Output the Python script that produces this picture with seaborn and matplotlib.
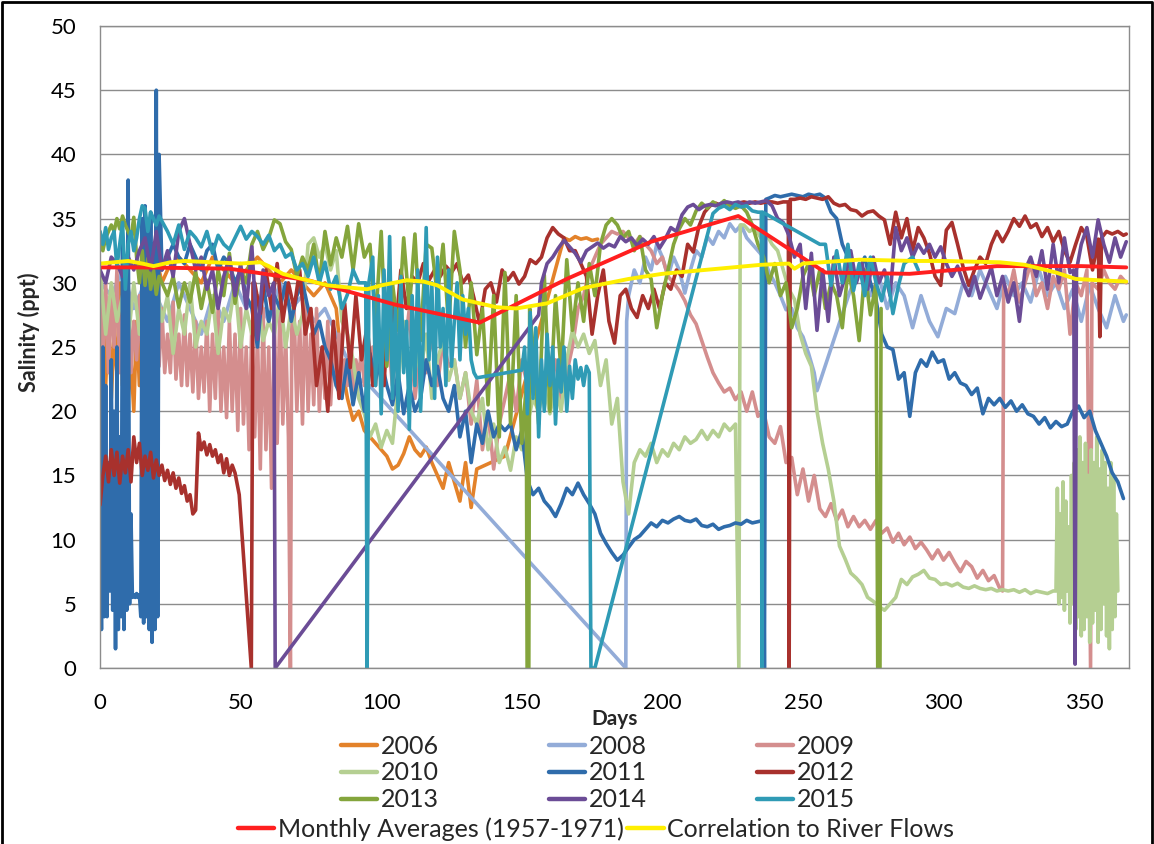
import matplotlib
matplotlib.use("Agg")
import matplotlib.pyplot as plt
from matplotlib.lines import Line2D
import pandas as pd
import seaborn as sns

# ----------------------------------------------------------
# Data (day of year, salinity ppt)
# regular runs: (start day, step, values); sparse points: (day, value)
# ----------------------------------------------------------

# 2006
s2006_a = [31, 27, 22, 28, 21, 26, 23, 30, 22, 25, 21, 24, 20, 27, 22, 31, 21, 24,
           22, 29, 23, 31, 30]
s2006_b = [31, 32, 31, 30, 32, 31, 30, 31, 32, 31, 30, 31, 30, 29, 30, 28]
s2006_c = [23.5, 21, 19.3, 20, 18.5, 18, 17.5, 17, 16.5, 15.5, 15.8, 16.7, 18, 17,
           16.5, 17.2, 16, 15, 14, 16, 14.5, 13, 16, 12.5, 15.5]
p2006 = [(144, 16.5)]
s2006_d = [33.5, 33.3, 33.6, 33.4, 33.5, 33.3, 33.4]

# 2008
s2008_a = [30, 29, 31, 28, 30, 29, 27, 30, 28, 26, 29, 27, 30, 28, 29, 27, 30, 28,
           29, 27, 28, 26, 24, 22.5]
p2008_a = [(95, 22.2), (187, 0), (187.3, 27)]
s2008_b = [29, 31, 30, 32, 31, 33, 32, 30.5, 32, 31, 29.2, 31, 32.5, 32, 33.6, 33,
           34, 33.5, 34.6, 34, 34.5, 33.5, 33, 32.5, 32, 30.8, 30, 29, 27.9, 28,
           26.5, 25.8, 24.5, 23]
p2008_b = [(255, 21.6), (266.5, 29.2)]
s2008_c = [30, 31, 29, 30.5, 28, 30, 29, 26.5, 29, 27, 25.8, 28, 27.6, 30, 29, 31,
           29.5, 28, 30.5, 29, 30, 28.5, 31, 29, 30, 28, 29.5, 27, 29.8, 28, 26.5,
           29, 27]
p2008_c = [(365, 27.5)]

# 2009
s2009_a = [31, 24, 30, 23, 29, 25, 31, 23, 28, 24, 30, 23, 27, 24, 29, 23, 28, 25,
           30, 23, 27, 23.5, 28, 23, 26, 23, 28.5, 22.5, 26, 22, 27.5, 22, 26, 21.5,
           27, 21, 25, 21.5, 27, 20, 26, 21, 28, 20, 25, 19.5, 27, 20, 26, 18.5,
           28, 19, 25, 17, 27, 18, 26, 15.5, 28, 17, 25, 14, 27, 17.5, 28.5, 19,
           26, 18]
p2009_a = [(67.7, 0), (68.2, 28)]
s2009_b = [28, 20, 27, 19, 29, 20, 26, 20.5, 28, 20, 25, 21, 27, 20.5, 25, 22, 26,
           21, 24, 22, 25, 21, 24, 22.5, 25, 22, 24, 23, 25, 22, 24, 23]
s2009_c = [27, 22, 26, 24, 28, 21, 25, 23, 26, 22, 25.5, 23.5, 24, 21, 23, 19, 22.4,
           17, 20, 15.5, 19, 21, 23, 20, 24, 22, 25, 21, 23, 22, 24, 20.5, 23, 25,
           28, 29, 31, 32, 33, 33.5, 34, 33.8, 34, 33.5, 33]
s2009_d = [33.6, 33, 32.5, 31.5, 32, 30.5, 30, 29.4, 28.6, 27.5, 26.8, 25.5, 24.2,
           23, 22.2, 21.5, 21.8, 20.9, 21.5, 20, 21.5, 19.6, 20, 18, 17.5, 18.8, 16,
           16.4, 13.5, 15.5, 13, 15, 12.4, 11.8, 12.8, 11.5, 12.3, 11, 11.8, 11,
           11.5, 10.8, 11.5, 10.5, 10.9, 9.8, 10.5, 9.6, 10.2, 9.3, 9.8, 9.2, 8.5,
           9.2, 8.4, 9, 8.2, 7.5, 8.3, 7.9, 7, 7.6, 6.8, 7.2, 6.2]
p2009_b = [(321, 6), (321.4, 30)]
s2009_e = [29, 31, 28.5, 30, 31.5, 29, 30, 28, 30.5, 29.5, 31, 26, 30, 29, 31]
p2009_c = [(352.3, 0), (352.8, 30)]
s2009_f = [29.5, 31, 30, 29.5, 30.5, 30]

# 2010
s2010_a = [31, 26, 30, 27, 29, 25.5, 30, 26, 28, 25, 30, 27, 29, 24.5, 28, 26, 30,
           25, 27, 26, 29, 24.5, 28, 27, 30, 25, 28, 26, 29, 25.5, 27, 26, 29, 25,
           28, 26, 27.5, 33, 33.5, 32, 33, 31, 32.5, 27, 26, 24]
s2010_b = [21, 19.8, 18, 19, 17.2, 18.5, 17.5, 22, 27, 22, 25, 23, 26, 21, 24, 25.5,
           22.4, 24, 21, 23, 20, 19, 21, 17, 19, 16, 17.2, 15.4, 18, 17, 19, 21, 20,
           22, 19.8, 21.9, 20, 24, 26.3, 25, 26, 24.5, 25.5, 22, 24, 19, 21, 14.5,
           12, 16, 17, 16.5, 17.5, 16, 17, 16.5, 17.5, 17, 18, 17.5, 17.8, 18.5,
           17.8, 18.5, 18, 19, 18.5, 19]
p2010 = [(227.2, 0), (227.7, 34.5)]
s2010_c = [34.5, 34, 34.3, 33.5, 33.8, 33, 32.5, 31, 29.5, 28.7, 26, 24.5, 23.5, 20,
           17.5, 15.5, 13, 9.5, 8.5, 7.4, 7, 6.5, 5.5, 5.2, 4.8, 4.5, 5, 5.5, 6.9,
           6.5, 7.1, 7.3, 7.6, 7, 6.9, 6.5, 6.6, 6.4, 6.6, 6.3, 6.2, 6.4, 6.2, 6.1,
           6.2, 6, 6.1, 6, 6.1, 5.9, 6.1, 5.8, 6, 5.9, 5.8, 6]
s2010_d = [6, 14, 5, 12, 5.5, 14.5, 4.5, 13, 6, 11, 3.5, 15, 5, 16, 3, 17, 4, 18,
           2.5, 16, 3, 17.5, 4, 15, 2, 17, 3.5, 16, 4.5, 18, 2, 15.5, 3, 17, 5, 16,
           2.5, 14, 1.5, 16, 3, 15, 4, 12, 6]

# 2011
s2011_a = [14, 3, 25, 4, 22, 4, 16, 6, 24, 4.5, 20, 1.5, 25, 3, 18, 4, 33, 3, 31,
           4.5, 38, 5, 12, 5.5, 5.7, 5.5, 5.8, 5.5, 5.7, 4, 35, 3.5, 36, 4, 34, 3,
           35.5, 2, 33, 3, 45, 4, 40]
s2011_b = [31, 32, 33, 32, 31.5, 33, 32, 31, 32.5, 33, 31, 32, 31.5, 30, 31, 29, 28,
           25, 30, 27, 29, 28, 30, 27, 29, 30, 28, 26, 27, 25, 24, 22]
s2011_c = [21, 24, 20.5, 23, 20, 24.5, 22.5, 24, 22, 20.5, 23, 19.8, 22, 20, 21, 24,
           22, 23.5, 21, 20, 22, 18, 20, 16, 19, 17.5, 20, 18, 19, 18.5, 19, 17,
           18.5]
s2011_d = [14.6, 13.5, 14, 13, 12.5, 11.8, 12.8, 14, 13.5, 14.4, 13.5, 12.8, 12,
           10.5, 9.7, 9, 8.4, 8.8, 9.4, 10, 10.3, 10.8, 11.3, 11, 11.5, 11.3, 11.6,
           11.8, 11.5, 11.4, 11.6, 11.1, 11, 11.2, 10.8, 11, 11.1, 11.3, 11.2, 11.5,
           11.3, 11.4, 11.5]
p2011 = [(236.3, 0), (236.8, 36.5)]
s2011_e = [36.6, 36.8, 36.7, 36.8, 36.9, 36.8, 36.7, 36.9, 36.8, 36.9, 36.6, 35.5,
           35, 33, 32, 30, 31, 32, 30, 28.7, 26, 25, 24.8, 22.5, 23, 19.6, 23, 24,
           23.5, 24.6, 23.8, 24, 22.5, 23, 22.2, 22, 21.3, 21.8, 19.8, 21, 20.5, 21,
           20.3, 20.8, 20, 20.5, 19.8, 19.6, 19, 19.5, 18.7, 19.2, 18.8, 19, 20,
           20.4, 19.5, 20, 18.5, 17.5, 16.5, 15.2, 14.5, 13.2]

# 2012
s2012_a = [12.7, 15, 16.5, 14.5, 17, 15, 16.8, 14.4, 16.5, 15.2, 17, 14.5, 18, 16,
           17.5, 15, 16.5, 15.4, 16.8, 14.8, 16.2, 15, 15.8, 14.6, 15.4, 14.3, 15.2,
           14, 14.8, 13.6, 14.2, 13, 13.5, 12, 12.3, 18.3, 17, 17.6, 16.6, 17.4,
           16.5, 17, 16, 16.6, 15.2, 16.3, 15, 15.8, 15.2]
p2012_a = [(49.5, 13.5), (53.8, 0), (54.4, 30)]
s2012_b = [30, 27.6, 31, 28, 31.5, 27, 30, 28, 31, 26, 28, 22, 25, 20, 27, 21, 28.4,
           23.4, 29, 24, 26.6, 22, 25.5, 22]
s2012_c = [30, 26, 31, 28, 30.5, 30, 31.5, 30.2, 31, 30.5, 31.3, 30.8, 31.5, 30,
           30.6, 28.8, 26.8, 29.5, 30, 28.5, 31, 30.2, 30.8, 29.9, 30.5, 31.8, 31.5,
           32, 33.5, 34.3, 33.8, 33.5, 32.5, 32.5, 31.5, 30.5, 26, 29, 31, 27, 25.3,
           29, 29.5, 28]
s2012_d = [27.3, 29, 28, 29.5, 28, 30, 29.5, 31, 30.5, 33, 32.4, 34.4, 35.5, 36,
           36.2, 36, 36.2, 36.1, 36.2, 36.3, 36.2, 36.3, 36.2, 36.3, 36.3, 36.2,
           36.3]
p2012_b = [(244.8, 36.3), (245.1, 0), (245.5, 36.5)]
s2012_e = [36.5, 36.6, 36.5, 36.7, 36.6, 36.5, 36.7, 36.2, 36, 36.1, 35.7, 35.6,
           35.2, 35.5, 35.6, 35.2, 34.9, 33, 35.5, 33.5, 35, 32.5, 34.3, 33.5, 32.3,
           30.5, 29.8, 34.1, 34.7, 33, 31.2, 29.8, 31, 32, 31.5, 33, 34, 33.2, 34,
           35, 34.4, 35.2, 34.3, 34.6, 33.6, 34.3, 33.2, 34, 32.5, 31.6, 33, 34.3,
           33.6, 31]
p2012_c = [(355, 33.4), (355.6, 25.8), (356.2, 33.5)]
s2012_f = [34, 33.8, 34, 33.7]
p2012_d = [(365, 33.8)]

# 2013
s2013_a = [33, 32.5, 33.5, 34, 34.5, 34, 35, 34.2, 35.2, 34.5, 34, 33.5, 35.1, 32,
           30, 32.5, 29.8, 31.9, 29.5, 31, 29.1, 30.5, 30]
s2013_b = [29, 30.5, 28.1, 30, 28.5, 30.9, 28, 30.2, 27.7, 31, 29, 32.3, 28.4, 31,
           30, 33, 34, 32.6, 33.5, 34.9, 34.6, 33.2, 32.6, 30.5, 32, 31, 33, 30, 34,
           31.4, 33.5, 32, 34.4, 31, 34.6, 32]
s2013_c = [33, 27, 34, 23.5, 30, 26.3, 33.5, 28, 33.8, 25.5, 33, 32.7, 29, 33, 26.6,
           34, 31, 25, 30, 24.4, 28, 20.5, 29, 18, 30.8, 19, 29, 17.5]
p2013_a = [(151.6, 22), (151.9, 0), (152.5, 0), (152.8, 28)]
s2013_d = [25, 19, 30.6, 20, 29, 23, 31.8, 26.3, 30, 27, 31.5, 29, 33, 34.5, 35,
           34.5, 33.5, 34, 32.5, 33.6, 31, 30.3, 26.5, 29, 31, 33, 34.2, 35, 34.5,
           35.6, 36.2, 35.8, 36.3, 36, 36.4, 36, 35.8, 36, 35.5, 34.5, 33, 32, 30,
           31.5, 29, 30, 26.5, 28, 30.5, 31.5, 29, 31, 28, 30, 29, 26.5, 31, 29,
           25.5, 31, 27.5, 30]
p2013_b = [(276.6, 0), (277.4, 0), (277.8, 28)]

# 2014
s2014_a = [31, 30, 32, 31.5, 30.5, 32, 31, 32.5, 33.5, 31, 34, 31, 32.5, 30.5, 34,
           35, 33, 31, 32, 29.5, 31, 28, 30.5, 32, 29, 31.5, 28, 32.8, 25.6, 31, 29]
p2014_a = [(61.8, 30), (62.3, 0), (156, 27.5)]
s2014_b = [30, 31.5, 32, 32.7, 33.3, 32.8, 32.3, 31.6, 32.5, 32.8, 33.1, 32.7, 33,
           32.8, 33.6, 33.2, 33.5, 32.9, 33.4, 33, 33.6, 32.7, 33.4, 34.3, 34, 35.3,
           35.9, 36.1, 35.7, 36, 36.1, 36, 36.2, 36.3, 36.2, 36.3, 36.1, 36.3, 36.2,
           36.3, 36.4, 36, 35, 34.7, 33.7]
s2014_c = [32, 33, 28, 32.3, 26.3, 31, 27, 32, 29, 30.5, 32.5, 30, 31.5, 29.5, 32,
           30, 31, 29, 34.3, 32.5, 33.5, 32, 33, 32.3, 33, 32, 32.8, 31.5, 30.5,
           31.3, 30, 29, 30.5, 28.8, 30, 31.2, 29, 30.5, 28.5, 30, 27, 31, 32, 30.5,
           32.5, 29.5, 33, 30, 33.5, 30.8]
p2014_b = [(346.3, 31), (346.8, 0.3), (347.3, 31)]
s2014_d = [33, 34.3, 32, 34.9, 33, 31.6, 33.5, 32, 33.2]

# 2015
s2015_a = [34, 33, 34.3, 32.6, 33.5, 34, 31.2, 33, 34.7, 29.5, 33, 34, 32.5, 33.5,
           35, 36, 35.8, 34, 35.5, 35, 34.5, 35.2, 34.8]
s2015_b = [34, 33, 34.5, 32.6, 34, 33.5, 32.8, 34, 32.3, 33.7, 33, 32.6, 33.5, 34.4,
           33.4, 34, 33.6, 33, 33.7, 32.5, 33, 32, 32.3, 31, 31.5, 30.5, 32, 30,
           31.6, 29.5, 30.5, 28, 29.1, 31, 30]
p2015_a = [(94.5, 30), (95, 0), (95.6, 30)]
s2015_c = [32, 22, 29, 19.8, 31, 24, 33.6, 21, 28, 20, 30.5, 23, 27, 18.6, 29, 22,
           31, 20, 26, 34.3, 24, 30, 21, 32, 25, 28, 22, 31, 23.5, 27, 30, 24, 29,
           26, 28, 24, 23]
p2015_b = [(134, 22.6), (150, 23.2)]
s2015_d = [25, 19.8, 27.7, 21, 26.5, 18, 24, 20, 26, 22, 25, 19, 24, 21.5, 25, 20,
           23.5, 21, 24, 22.5, 23.4, 22, 23.5, 23]
p2015_c = [(174.6, 0), (176, 0), (218, 35.4)]
s2015_e = [35.8, 36, 35.7, 36.1, 35.9, 36, 35.6, 35.5]
p2015_d = [(235.2, 35.5), (235.4, 0), (235.7, 35.5), (256, 33)]
s2015_f = [33, 29.8, 32.5, 30, 33, 29.4, 31.5, 29, 32, 30, 28.6, 30.5, 27.6, 29.8,
           31.5]
p2015_e = [(289, 32), (291, 31)]

# Monthly averages (1957-1971)
monthly_days = [0, 15, 46, 74, 105, 135, 166, 196, 227, 258, 288, 319, 349, 365]
monthly_vals = [31.2, 31.2, 31.1, 30.2, 28.3, 26.9, 30.3, 33.2, 35.2, 30.8, 30.7,
                31.3, 31.3, 31.2]

# Correlation to river flows
corr_days = [0, 5, 10, 15, 19, 25, 30, 40, 50, 57, 60, 65, 70, 81, 90, 95, 100, 109,
             115, 120, 129, 141, 148, 159, 172, 188, 200, 220, 235, 245, 247, 250,
             270, 290, 300, 320, 329, 340, 347, 355, 365]
corr_vals = [31.5, 31.6, 31.7, 31.5, 31.3, 31.6, 31.7, 31.6, 31.5, 31.6, 31.3, 30.7,
             30.4, 29.8, 29.6, 29.5, 29.8, 30.2, 30.1, 29.8, 28.7, 28.1, 28.0, 28.4,
             29.6, 30.3, 30.7, 31.1, 31.4, 31.5, 31.1, 31.5, 31.8, 31.7, 31.7, 31.6,
             31.4, 30.8, 30.3, 30.2, 30.1]


def run(start, step, vals):
    return [(start + i * step, v) for i, v in enumerate(vals)]


series = {
    "2006": run(0, 1, s2006_a) + run(24, 4, s2006_b) + run(86, 2, s2006_c)
            + p2006 + run(165, 2, s2006_d),
    "2008": run(0, 4, s2008_a) + p2008_a + run(188, 2, s2008_b) + p2008_b
            + run(268, 3, s2008_c) + p2008_c,
    "2009": run(0, 1, s2009_a) + p2009_a + run(69, 1, s2009_b) + run(102, 2, s2009_c)
            + run(192, 2, s2009_d) + p2009_b + run(323, 2, s2009_e) + p2009_c
            + run(355, 2, s2009_f),
    "2010": run(0, 2, s2010_a) + run(92, 2, s2010_b) + p2010 + run(229, 2, s2010_c)
            + run(340, 0.5, s2010_d),
    "2011": run(0, 0.5, s2011_a) + run(22, 2, s2011_b) + run(86, 2, s2011_c)
            + run(152, 2, s2011_d) + p2011 + run(238, 2, s2011_e),
    "2012": run(0, 1, s2012_a) + p2012_a + run(55, 2, s2012_b) + run(103, 2, s2012_c)
            + run(191, 2, s2012_d) + p2012_b + run(247, 2, s2012_e) + p2012_c
            + run(358, 2, s2012_f) + p2012_d,
    "2013": run(0, 1, s2013_a) + run(24, 2, s2013_b) + run(96, 2, s2013_c) + p2013_a
            + run(154, 2, s2013_d) + p2013_b,
    "2014": run(0, 2, s2014_a) + p2014_a + run(157, 2, s2014_b) + run(247, 2, s2014_c)
            + p2014_b + run(349, 2, s2014_d),
    "2015": run(0, 1, s2015_a) + run(24, 2, s2015_b) + p2015_a + run(97, 1, s2015_c)
            + p2015_b + run(151, 1, s2015_d) + p2015_c + run(220, 2, s2015_e)
            + p2015_d + run(258, 2, s2015_f) + p2015_e,
}

colors = {
    "2006": "#E3822A",
    "2008": "#93ACD8",
    "2009": "#D48E8E",
    "2010": "#B5CF92",
    "2011": "#2F6CAB",
    "2012": "#A8312D",
    "2013": "#84A53C",
    "2014": "#6B4C96",
    "2015": "#2F9BB5",
}

# ----------------------------------------------------------
# Plot
# ----------------------------------------------------------
sns.set_theme(style="white")
plt.rcParams["font.family"] = ["Lato", "DejaVu Sans"]

fig = plt.figure(figsize=(11.54, 8.44), dpi=100)
ax = fig.add_axes([0.0867, 0.2085, 0.8917, 0.7607])

for year, pts in series.items():
    df = pd.DataFrame(pts, columns=["day", "salinity"])
    sns.lineplot(data=df, x="day", y="salinity", estimator=None, sort=False,
                 color=colors[year], lw=2.6, label=year, ax=ax)

sns.lineplot(x=monthly_days, y=monthly_vals, estimator=None, sort=False,
             color="#FF1F1F", lw=2.8, label="Monthly Averages (1957-1971)", ax=ax)
sns.lineplot(x=corr_days, y=corr_vals, estimator=None, sort=False,
             color="#FFEF00", lw=2.8, label="Correlation to River Flows", ax=ax)

ax.set_xlim(0, 366)
ax.set_ylim(0, 50)
ax.set_xticks(range(0, 351, 50))
ax.set_yticks(range(0, 51, 5))
ax.grid(axis="y", color="#8C8C8C", lw=1)
ax.grid(axis="x", visible=False)
for sp in ax.spines.values():
    sp.set_color("#8C8C8C")
    sp.set_linewidth(1)
ax.tick_params(axis="both", labelsize=16, colors="#8C8C8C", labelcolor="black",
               width=1, direction="out")
ax.tick_params(axis="x", length=5, pad=13)
ax.tick_params(axis="y", length=6, pad=11)

ax.set_xlabel("Days", fontsize=15, fontweight="bold")
ax.xaxis.set_label_coords(0.5, -0.064)
ax.set_ylabel("Salinity (ppt)", fontsize=15.5, fontweight="bold")
ax.yaxis.set_label_coords(-0.058, 0.523)

handles, labels = ax.get_legend_handles_labels()
ax.get_legend().remove()
lookup = dict(zip(labels, handles))
year_order = ["2006", "2010", "2013", "2008", "2011", "2014", "2009", "2012", "2015"]
leg_font = {"family": "Lato", "size": 18}
leg1 = fig.legend([lookup[k] for k in year_order], year_order, ncol=3, loc="center",
                  bbox_to_anchor=(598 / 1154, 1 - 773 / 844), frameon=False,
                  prop=leg_font, handlelength=1.45, handletextpad=0.15,
                  columnspacing=4.4, labelspacing=0.15, borderpad=0)
avg_labels = ["Monthly Averages (1957-1971)", "Correlation to River Flows"]
leg2 = fig.legend([lookup[k] for k in avg_labels], avg_labels, ncol=2, loc="center",
                  bbox_to_anchor=(596 / 1154, 1 - 829 / 844), frameon=False,
                  prop=leg_font, handlelength=1.45, handletextpad=0.15,
                  columnspacing=0.15, borderpad=0)
for leg in (leg1, leg2):
    for ln in leg.get_lines():
        ln.set_linewidth(3.2)

# chart-area frame (left, top, right edges)
frame_x = [0.0015, 0.0015, 0.998, 0.998]
frame_y = [0.0, 0.998, 0.998, 0.0]
fig.lines.append(Line2D(frame_x, frame_y, transform=fig.transFigure, color="black",
                        lw=2))

fig.savefig("out.png", dpi=100)
plt.close(fig)
